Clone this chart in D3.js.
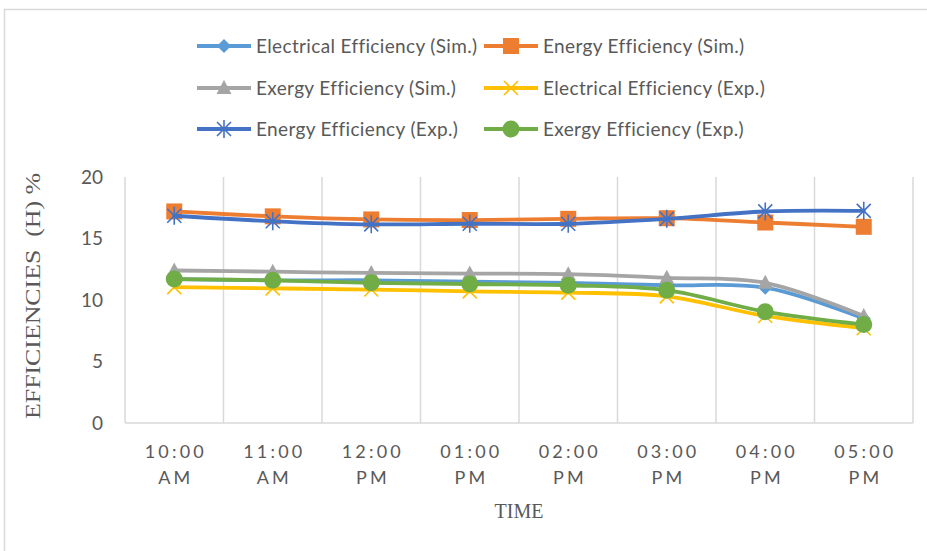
<!DOCTYPE html>
<html>
<head>
<meta charset="utf-8">
<script src="https://cdn.jsdelivr.net/npm/d3@7"></script>
<style>
  html, body { margin: 0; padding: 0; background: #fff; }
  svg { display: block; }
</style>
</head>
<body>
<svg id="chart" width="927" height="551"></svg>
<script>
// Hourly readings
const categories = ["10:00 AM", "11:00 AM", "12:00 PM", "01:00 PM", "02:00 PM", "03:00 PM", "04:00 PM", "05:00 PM"];
const yTicks = [0, 5, 10, 15, 20];

// Efficiencies (%)
const elecSim   = [11.7, 11.6, 11.6, 11.5, 11.4, 11.2, 11.0, 8.5];
const energySim = [17.2, 16.8, 16.55, 16.5, 16.6, 16.65, 16.3, 15.95];
const exergySim = [12.4, 12.3, 12.2, 12.15, 12.1, 11.8, 11.4, 8.7];
const elecExp   = [11.05, 10.95, 10.85, 10.7, 10.6, 10.3, 8.7, 7.7];
const energyExp = [16.85, 16.4, 16.15, 16.2, 16.2, 16.6, 17.2, 17.25];
const exergyExp = [11.7, 11.6, 11.4, 11.3, 11.2, 10.8, 9.05, 8.0];

const seriesNames = [
  "Electrical Efficiency (Sim.)", "Energy Efficiency (Sim.)", "Exergy Efficiency (Sim.)",
  "Electrical Efficiency (Exp.)", "Energy Efficiency (Exp.)", "Exergy Efficiency (Exp.)"
];

const series = [
  { name: seriesNames[0], values: elecSim,   color: "#5B9BD5", marker: "diamond" },
  { name: seriesNames[1], values: energySim, color: "#ED7D31", marker: "square" },
  { name: seriesNames[2], values: exergySim, color: "#A5A5A5", marker: "triangle" },
  { name: seriesNames[3], values: elecExp,   color: "#FFC000", marker: "x" },
  { name: seriesNames[4], values: energyExp, color: "#4472C4", marker: "star" },
  { name: seriesNames[5], values: exergyExp, color: "#70AD47", marker: "circle" }
];

const svg = d3.select("#chart");
const grid = "#d9d9d9";
const textColor = "#595959";

// Outer chart frame (top and left edges)
svg.append("path")
  .attr("d", "M4.5,551 V9.5 H927")
  .attr("fill", "none").attr("stroke", grid).attr("stroke-width", 1.5);

const plot = { left: 125, right: 913, top: 177, bottom: 423 };

const x = d3.scaleBand().domain(categories).range([plot.left, plot.right]).padding(0);
const y = d3.scaleLinear().domain([0, 20]).range([plot.bottom, plot.top]);

// Vertical gridlines at category boundaries
const bounds = categories.map(c => x(c)).concat([plot.right]);
svg.append("g").selectAll("line").data(bounds).join("line")
  .attr("x1", d => d).attr("x2", d => d)
  .attr("y1", plot.top).attr("y2", plot.bottom)
  .attr("stroke", grid).attr("stroke-width", 1.5);

// Category axis line
svg.append("line")
  .attr("x1", plot.left).attr("x2", plot.right)
  .attr("y1", plot.bottom).attr("y2", plot.bottom)
  .attr("stroke", grid).attr("stroke-width", 1.5);

// Value axis labels
const yAxis = d3.axisLeft(y).tickValues(yTicks).tickSize(0).tickPadding(22);
const yg = svg.append("g").attr("transform", `translate(${plot.left},0)`).call(yAxis);
yg.select(".domain").remove();
yg.selectAll("text")
  .attr("fill", textColor)
  .style("font-family", "Lato, 'Open Sans', sans-serif")
  .style("font-size", "19px");

// Category axis labels (two lines each)
const xAxis = d3.axisBottom(x).tickSize(0).tickFormat("");
const xg = svg.append("g").attr("transform", `translate(0,${plot.bottom})`).call(xAxis);
xg.select(".domain").remove();
xg.selectAll(".tick").each(function(d) {
  const parts = d.split(" ");
  const t = d3.select(this).append("text")
    .attr("fill", textColor)
    .attr("text-anchor", "middle")
    .style("font-family", "Lato, 'Open Sans', sans-serif")
    .style("font-size", "18px")
    .style("letter-spacing", "3.2px");
  t.append("tspan").attr("x", 1.6).attr("y", 35).text(parts[0]);
  t.append("tspan").attr("x", 1.6).attr("y", 61).text(parts[1]);
});

// Axis titles
svg.append("text")
  .attr("transform", `translate(40,296) rotate(-90)`)
  .attr("text-anchor", "middle")
  .attr("fill", textColor)
  .attr("textLength", 246)
  .attr("lengthAdjust", "spacingAndGlyphs")
  .style("font-family", "'Liberation Serif', 'Times New Roman', serif")
  .style("font-size", "22px")
  .style("white-space", "pre")
  .text("EFFICIENCIES  (H) %");

svg.append("text")
  .attr("x", (plot.left + plot.right) / 2).attr("y", 518)
  .attr("text-anchor", "middle")
  .attr("fill", textColor)
  .style("font-family", "'Liberation Serif', 'Times New Roman', serif")
  .style("font-size", "20px")
  .text("TIME");

// Marker drawing
function drawMarker(g, type, color) {
  switch (type) {
    case "diamond":
      g.append("path").attr("d", "M0,-7 L7,0 L0,7 L-7,0 Z").attr("fill", color);
      break;
    case "square":
      g.append("rect").attr("x", -8).attr("y", -8).attr("width", 16).attr("height", 16).attr("fill", color);
      break;
    case "triangle":
      g.append("path").attr("d", "M0,-8 L7.5,6 L-7.5,6 Z").attr("fill", color);
      break;
    case "circle":
      g.append("circle").attr("r", 8.5).attr("fill", color);
      break;
    case "x":
      g.append("path").attr("d", "M-7,-7 L7,7 M7,-7 L-7,7")
        .attr("stroke", color).attr("stroke-width", 1.6).attr("fill", "none");
      break;
    case "star":
      g.append("path").attr("d", "M-7,-7 L7,7 M7,-7 L-7,7 M0,-9 V9")
        .attr("stroke", color).attr("stroke-width", 1.6).attr("fill", "none");
      break;
  }
}

const cx = c => x(c) + x.bandwidth() / 2;
const line = d3.line()
  .x((d, i) => cx(categories[i]))
  .y(d => y(d))
  .curve(d3.curveCatmullRom.alpha(0.5));

series.forEach(s => {
  const g = svg.append("g");
  g.append("path")
    .datum(s.values)
    .attr("d", line)
    .attr("fill", "none")
    .attr("stroke", s.color)
    .attr("stroke-width", 3.8)
    .attr("stroke-linejoin", "round")
    .attr("stroke-linecap", "round");
  g.selectAll("g.m").data(s.values).join("g")
    .attr("class", "m")
    .attr("transform", (d, i) => `translate(${cx(categories[i])},${y(d)})`)
    .each(function() { drawMarker(d3.select(this), s.marker, s.color); });
});

// Legend: three rows of two entries
const legendCols = [197, 484];
const legendRows = [46, 88, 129];
series.forEach((s, i) => {
  const lx = legendCols[i % 2];
  const ly = legendRows[Math.floor(i / 2)];
  const g = svg.append("g").attr("transform", `translate(${lx},${ly})`);
  g.append("line").attr("x1", 0).attr("x2", 54).attr("y1", 0).attr("y2", 0)
    .attr("stroke", s.color).attr("stroke-width", 3.8);
  const m = g.append("g").attr("transform", "translate(27,0)");
  drawMarker(m, s.marker, s.color);
  g.append("text")
    .attr("x", 59).attr("y", 0).attr("dy", "0.35em")
    .attr("fill", textColor)
    .style("font-family", "Lato, 'Open Sans', sans-serif")
    .style("font-size", "19px")
    .style("letter-spacing", "0.35px")
    .text(s.name);
});
</script>
</body>
</html>
